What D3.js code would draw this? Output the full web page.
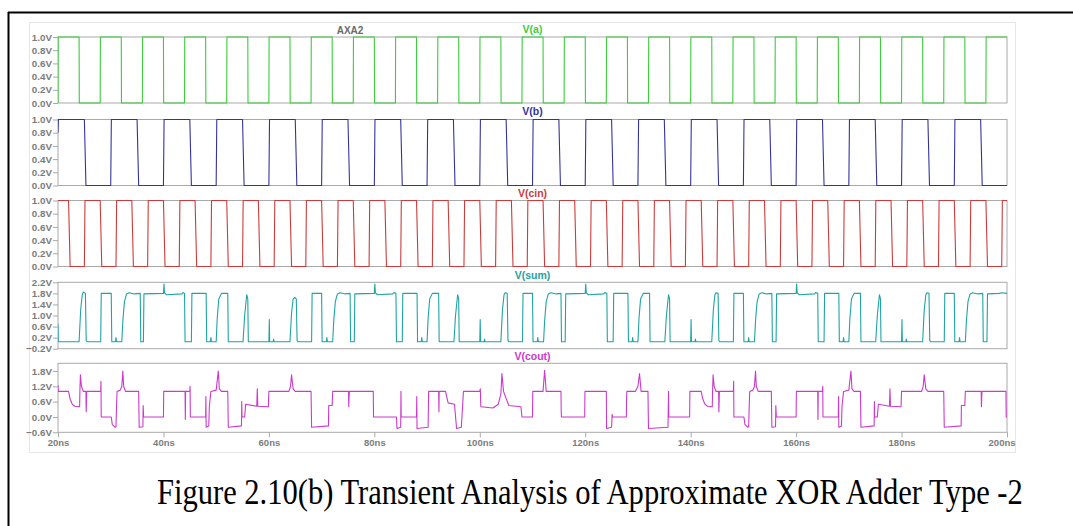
<!DOCTYPE html>
<html><head><meta charset="utf-8">
<script src="https://cdn.jsdelivr.net/npm/d3@7/dist/d3.min.js"></script>
<style>body{margin:0;background:#fff}svg{display:block}</style>
</head><body>
<svg id="c" width="1073" height="526"></svg>
<script>
// ---------------- DATA ----------------
const timeTicks = [20, 40, 60, 80, 100, 120, 140, 160, 180, 200];
const timeTickLabels = ["20ns","40ns","60ns","80ns","100ns","120ns","140ns","160ns","180ns","200ns"];

const signalNames = ["V(a)", "V(b)", "V(cin)", "V(sum)", "V(cout)"];
const voltTicksA = [0, 0.2, 0.4, 0.6, 0.8, 1.0];
const voltTicksB = [0, 0.2, 0.4, 0.6, 0.8, 1.0];
const voltTicksCin = [0, 0.2, 0.4, 0.6, 0.8, 1.0];
const voltTicksSum = [-0.2, 0.2, 0.6, 1.0, 1.4, 1.8, 2.2];
const voltTicksCout = [-0.6, 0.0, 0.6, 1.2, 1.8];

// V(a): level 1 after first edge, toggling at these times (ns)
const aLevelAtStart = 0;
const aEdges = [20,24,28,32,36,40,44,48,52,56,60,64,68,72,76,80,84,88,92,96,100,104,108,112,116,120,124,128,132,136,140,144,148,152,156,160,164,168,172,176,180,184,188,192,196];
// V(b): starts mid rising edge (0.8V at 20ns)
const bStartValue = 0.8;
const bLevelAtStart = 1;
const bEdges = [25,30,35,40,45,50,55,60,65,70,75,80,85,90,95,100,105,110,115,120,125,130,135,140,145,150,155,160,165,170,175,180,185,190,195];
// V(cin)
const cinLevelAtStart = 1;
const cinEdges = [22,25,28,31,34,37,40,43,46,49,52,55,58,61,64,67,70,73,76,79,82,85,88,91,94,97,100,103,106,109,112,115,118,121,124,127,130,133,136,139,142,145,148,151,154,157,160,163,166,169,172,175,178,181,184,187,190,193,196,199];

// V(sum): [time ns, volts]
const sumPoints = [
 [20,0.7],[20.05,0.05],
 [24.0,0.05],[24.3,1.2],[24.6,1.75],[24.8,1.85],[25.2,1.8],[25.35,0.1],[25.5,0.05],
 [28.1,0.05],[28.2,1.8],[30.1,1.8],[30.2,0.05],
 [30.9,0.05],[31.0,0.2],[31.1,0.05],[32.1,0.05],[32.3,0.8],[32.6,1.5],[33.0,1.78],[33.5,1.82],[34.5,1.78],[35.6,1.8],[35.7,0.05],
 [36.2,0.05],[36.3,1.78],[40.0,1.8],[40.1,2.14],[40.2,1.82],[40.6,1.75],[43.5,1.78],[43.7,1.83],[44.0,1.8],[44.1,0.05],
 [45.3,0.05],[45.4,1.8],[48.1,1.8],[48.2,0.05],
 [48.9,0.05],[49.0,0.2],[49.1,0.05],[50.0,0.05],[50.2,0.9],[50.5,1.6],[51.0,1.8],[52.2,1.8],[52.3,0.05],
 [55.1,0.05],[55.4,1.0],[55.8,1.75],[56.0,1.6],[56.1,0.05],
 [60.0,0.05],[60.08,0.85],[60.15,0.05],[60.8,0.05],[60.9,0.15],[61.0,0.05],
 [64.0,0.05],[64.3,1.1],[64.6,1.6],[64.9,1.65],[65.2,1.6],[65.35,0.1],[65.5,0.05],
 [68.1,0.05],[68.2,1.8],[70.0,1.8],[70.1,0.05],
 [70.9,0.05],[71.0,0.2],[71.1,0.05],[72.1,0.05],[72.3,0.8],[72.6,1.5],[73.0,1.78],[73.5,1.82],[74.5,1.78],[75.4,1.8],[75.5,0.05],
 [76.2,0.05],[76.3,1.78],[80.0,1.8],[80.1,2.14],[80.2,1.82],[80.6,1.75],[83.5,1.78],[83.7,1.83],[84.1,1.8],[84.2,0.05],
 [85.3,0.05],[85.4,1.8],[88.1,1.8],[88.2,0.05],
 [88.9,0.05],[89.0,0.2],[89.1,0.05],[90.0,0.05],[90.2,0.9],[90.5,1.6],[91.0,1.8],[92.2,1.8],[92.3,0.05],
 [95.1,0.05],[95.4,1.0],[95.8,1.75],[96.0,1.6],[96.1,0.05],
 [100.0,0.05],[100.08,0.85],[100.15,0.05],[100.8,0.05],[100.9,0.15],[101.0,0.05],
 [104.0,0.05],[104.3,1.2],[104.6,1.75],[104.8,1.82],[105.2,1.8],[105.35,0.1],[105.5,0.05],
 [108.1,0.05],[108.2,1.8],[110.0,1.8],[110.1,0.05],
 [110.9,0.05],[111.0,0.2],[111.1,0.05],[112.1,0.05],[112.3,0.8],[112.6,1.5],[113.0,1.78],[113.5,1.82],[114.5,1.78],[115.4,1.8],[115.5,0.05],
 [116.2,0.05],[116.3,1.78],[120.0,1.8],[120.1,2.14],[120.2,1.82],[120.6,1.75],[123.5,1.78],[123.7,1.83],[124.1,1.8],[124.2,0.05],
 [125.3,0.05],[125.4,1.8],[128.1,1.8],[128.2,0.05],
 [128.9,0.05],[129.0,0.2],[129.1,0.05],[130.0,0.05],[130.2,0.9],[130.5,1.6],[131.0,1.8],[132.2,1.8],[132.3,0.05],
 [135.1,0.05],[135.4,1.0],[135.8,1.75],[136.0,1.6],[136.1,0.05],
 [140.0,0.05],[140.08,0.85],[140.15,0.05],[140.8,0.05],[140.9,0.15],[141.0,0.05],
 [144.0,0.05],[144.3,1.2],[144.6,1.75],[144.8,1.82],[145.2,1.8],[145.35,0.1],[145.5,0.05],
 [148.1,0.05],[148.2,1.8],[150.0,1.8],[150.1,0.05],
 [150.9,0.05],[151.0,0.2],[151.1,0.05],[152.1,0.05],[152.3,0.8],[152.6,1.5],[153.0,1.78],[153.5,1.82],[154.5,1.78],[155.4,1.8],[155.5,0.05],
 [156.2,0.05],[156.3,1.78],[160.0,1.8],[160.1,2.14],[160.2,1.82],[160.6,1.75],[163.5,1.78],[163.7,1.83],[164.1,1.8],[164.2,0.05],
 [165.3,0.05],[165.4,1.8],[168.1,1.8],[168.2,0.05],
 [168.9,0.05],[169.0,0.2],[169.1,0.05],[170.0,0.05],[170.2,0.9],[170.5,1.6],[171.0,1.8],[172.2,1.8],[172.3,0.05],
 [175.1,0.05],[175.4,1.0],[175.8,1.75],[176.0,1.6],[176.1,0.05],
 [180.0,0.05],[180.08,0.85],[180.15,0.05],[180.8,0.05],[180.9,0.15],[181.0,0.05],
 [184.0,0.05],[184.3,1.2],[184.6,1.75],[184.8,1.82],[185.2,1.8],[185.35,0.1],[185.5,0.05],
 [188.1,0.05],[188.2,1.8],[190.0,1.8],[190.1,0.05],
 [190.9,0.05],[191.0,0.2],[191.1,0.05],[192.1,0.05],[192.3,0.8],[192.6,1.5],[193.0,1.78],[193.5,1.82],[194.5,1.78],[195.4,1.8],[195.5,0.05],
 [196.2,0.05],[196.3,1.78],[198.5,1.8],[199.0,1.82],[200,1.8]
];

// V(cout): [time ns, volts]
const coutPoints = [
 [20,1.25],[20.05,1.0],[22.0,1.0],[22.3,0.7],[22.7,0.5],[23.2,0.42],[24.1,0.4],[24.15,1.0],[24.25,1.65],[24.45,1.2],[24.8,1.0],[25.3,1.0],[25.35,0.2],[25.45,1.0],[28.1,1.0],[28.15,1.4],[28.2,0.0],
 [30.1,0.0],[30.3,-0.3],[30.8,-0.4],[31.0,-0.38],[31.1,0.4],[31.2,1.0],[31.8,1.05],[32.1,1.2],[32.3,1.8],[32.45,1.2],[32.8,1.0],[35.3,1.0],[35.4,-0.4],[36.1,-0.38],[36.15,0.45],[36.25,0.0],[40.0,0.0],[40.05,1.0],
 [44.1,1.0],[44.15,-0.1],[44.2,1.0],[45.0,1.0],[45.05,1.2],[45.1,0.0],[48.0,0.0],[48.05,0.8],[48.1,-0.4],[48.6,-0.35],[48.7,0.4],[49.0,1.0],[50.0,1.05],[50.4,1.8],[50.6,1.1],[51.0,1.0],[52.2,1.0],[52.3,-0.4],[54.8,-0.35],[54.85,0.6],[54.9,0.0],[55.4,0.0],[55.6,0.5],
 [57.7,0.42],[57.8,1.1],[57.9,0.42],[59.9,0.4],[60.0,1.0],[63.8,1.0],[64.1,1.2],[64.3,1.65],[64.6,1.1],[65.0,1.0],[68.0,1.0],[68.1,-0.4],[71.3,-0.35],[71.35,0.45],[72.0,0.45],[72.1,1.0],
 [75.1,1.0],[75.15,0.4],[75.25,1.0],[79.8,1.0],[79.85,0.0],[84.2,0.0],[84.3,-0.45],[85.0,-0.4],[85.05,1.0],[85.1,0.0],[88.0,0.0],[88.05,0.8],[88.1,-0.45],[90.2,-0.4],[90.3,1.0],[92.2,1.0],[92.25,0.2],[92.3,1.0],[93.5,1.0],[94.0,0.55],[95.2,0.5],[95.6,-0.45],[96.5,-0.4],[96.9,1.0],
 [100.0,1.0],[100.1,1.1],[100.2,0.4],[102.5,0.35],[103.5,0.5],[104.0,0.9],[104.2,1.7],[104.5,1.0],[105.5,0.45],[107.8,0.4],[108.0,0.0],[110.0,0.0],[110.05,1.0],[112.0,1.0],[112.3,1.83],[112.6,1.0],[115.4,1.0],[115.45,0.2],[115.5,0.0],[119.9,0.0],[119.95,1.0],
 [124.0,1.0],[124.05,-0.45],[125.0,-0.4],[125.1,0.1],[125.2,0.0],[127.8,0.0],[127.85,0.8],[127.9,1.0],[129.5,1.0],[130.0,1.2],[130.3,1.7],[130.6,1.0],[131.9,1.0],[132.0,-0.45],[135.7,-0.4],[135.8,1.0],[135.85,0.0],[139.8,0.0],[139.85,1.0],
 [142.0,1.0],[142.3,0.7],[142.7,0.5],[143.2,0.42],[144.1,0.4],[144.15,1.0],[144.25,1.65],[144.45,1.2],[144.8,1.0],[145.3,1.0],[145.35,0.2],[145.45,1.0],[148.1,1.0],[148.15,1.4],[148.2,0.0],
 [150.1,0.0],[150.3,-0.3],[150.8,-0.4],[151.0,-0.38],[151.1,0.4],[151.2,1.0],[151.8,1.05],[152.1,1.2],[152.3,1.8],[152.45,1.2],[152.8,1.0],[155.3,1.0],[155.4,-0.4],[156.1,-0.38],[156.15,0.45],[156.25,0.0],[160.0,0.0],[160.05,1.0],
 [164.1,1.0],[164.15,-0.1],[164.2,1.0],[165.0,1.0],[165.05,1.2],[165.1,0.0],[168.0,0.0],[168.05,0.8],[168.1,-0.4],[168.6,-0.35],[168.7,0.4],[169.0,1.0],[170.0,1.05],[170.4,1.8],[170.6,1.1],[171.0,1.0],[172.2,1.0],[172.3,-0.4],[174.8,-0.35],[174.85,0.6],[174.9,0.0],[175.4,0.0],[175.6,0.5],
 [177.7,0.42],[177.8,1.1],[177.9,0.42],[179.9,0.4],[180.0,1.0],[183.8,1.0],[184.1,1.2],[184.3,1.65],[184.6,1.1],[185.0,1.0],[188.0,1.0],[188.1,-0.4],[191.3,-0.35],[191.35,0.45],[192.0,0.45],[192.1,1.0],
 [195.1,1.0],[195.15,0.4],[195.25,1.0],[199.8,1.0],[199.85,0.0],[200,0.0]
];

// ---------------- DRAWING ----------------
const svg = d3.select("#c");
const W = 1073, H = 526;
const X0 = 58, X1 = 1007;
const x = d3.scaleLinear().domain([20, 200]).range([X0, X1]);

const font = "'Liberation Sans', Arial, sans-serif";
const frameCol = "#a9a9a9";
const labelCol = "#7c7c7c";

// page frame (black)
svg.append("line").attr("x1", 8).attr("y1", 12.5).attr("x2", W).attr("y2", 12.5).attr("stroke", "#000").attr("stroke-width", 2);
svg.append("line").attr("x1", 8.5).attr("y1", 12).attr("x2", 8.5).attr("y2", H).attr("stroke", "#000").attr("stroke-width", 2);

// faint window outline
svg.append("rect").attr("x", 29.5).attr("y", 22.5).attr("width", 986).attr("height", 430)
  .attr("fill", "none").attr("stroke", "#e6e6e6").attr("stroke-width", 1);

function squarePoints(startLevel, edges, rise, fall, t0, t1, startValue) {
  const pts = [];
  let lvl = startLevel;
  pts.push([t0, startValue !== undefined ? startValue : lvl]);
  edges.forEach(e => {
    const nl = 1 - lvl;
    const tr = nl === 1 ? rise : fall;
    if (e === t0) { pts.length = 0; pts.push([t0, lvl]); pts.push([t0 + tr, nl]); }
    else { pts.push([e, lvl]); pts.push([Math.min(e + tr, t1), nl]); }
    lvl = nl;
  });
  pts.push([t1, lvl]);
  return pts;
}

const aPts = squarePoints(aLevelAtStart, aEdges, 0.04, 0.04, 20, 200);
const bPts = [[20, bStartValue]].concat(squarePoints(bLevelAtStart, bEdges, 0.12, 0.3, 20.08, 200));
const cinPts = [[20, 1.0]].concat(squarePoints(cinLevelAtStart, cinEdges, 0.12, 0.3, 20.0, 200).slice(1));

const panels = [
  {name: signalNames[0], color: "#3ccc3c", top: 37, bottom: 103, dom: [0, 1], ticks: voltTicksA, fmt: d3.format(".1f"), data: aPts, titleY: 33},
  {name: signalNames[1], color: "#33339e", top: 119.5, bottom: 185.5, dom: [0, 1], ticks: voltTicksB, fmt: d3.format(".1f"), data: bPts, titleY: 115},
  {name: signalNames[2], color: "#cc3a3a", top: 200.5, bottom: 266.5, dom: [0, 1], ticks: voltTicksCin, fmt: d3.format(".1f"), data: cinPts, titleY: 196.5},
  {name: signalNames[3], color: "#1fa3a3", top: 282.3, bottom: 348.7, dom: [-0.2, 2.2], ticks: voltTicksSum, fmt: d3.format(".1f"), data: sumPoints, titleY: 278.5},
  {name: signalNames[4], color: "#cc3acc", top: 363.3, bottom: 432.3, dom: [-0.6, 2.1], ticks: voltTicksCout, fmt: d3.format(".1f"), data: coutPoints, titleY: 360}
];

// AXA2 label
svg.append("text").attr("x", 350).attr("y", 33.5).attr("text-anchor", "middle")
  .attr("font-family", font).attr("font-size", 10).attr("font-weight", "bold").attr("fill", "#6a6a6a").text("AXA2");

panels.forEach((p, i) => {
  const y = d3.scaleLinear().domain(p.dom).range([p.bottom, p.top]);
  const g = svg.append("g");
  g.append("rect").attr("x", X0).attr("y", p.top).attr("width", X1 - X0).attr("height", p.bottom - p.top)
    .attr("fill", "none").attr("stroke", frameCol).attr("stroke-width", 1);
  const ax = g.append("g").attr("transform", `translate(${X0},0)`)
    .call(d3.axisLeft(y).tickValues(p.ticks).tickSize(5).tickPadding(1).tickFormat(v => p.fmt(v) + "V"));
  ax.select(".domain").remove();
  ax.selectAll("line").attr("stroke", frameCol);
  ax.selectAll("text").attr("font-family", font).attr("font-size", 9.8).attr("font-weight", "bold").attr("fill", labelCol);
  g.append("text").attr("x", (X0 + X1) / 2).attr("y", p.titleY).attr("text-anchor", "middle")
    .attr("font-family", font).attr("font-size", 10.5).attr("font-weight", "bold").attr("fill", p.color).text(p.name);
  const cid = "clip" + i;
  svg.append("clipPath").attr("id", cid).append("rect").attr("x", X0).attr("y", p.top - 1).attr("width", X1 - X0 + 1).attr("height", p.bottom - p.top + 2);
  g.append("path").datum(p.data)
    .attr("clip-path", `url(#${cid})`)
    .attr("d", d3.line().x(d => x(d[0])).y(d => y(d[1])))
    .attr("fill", "none").attr("stroke", p.color).attr("stroke-width", 1.1).attr("stroke-linejoin", "round");
  if (i === panels.length - 1) {
    const xa = svg.append("g").attr("transform", `translate(0,${p.bottom})`)
      .call(d3.axisBottom(x).tickValues(timeTicks).tickSize(5).tickPadding(2).tickFormat((d, k) => timeTickLabels[k]));
    xa.select(".domain").remove();
    xa.selectAll("line").attr("stroke", frameCol);
    xa.selectAll("text").attr("font-family", font).attr("font-size", 9.5).attr("font-weight", "bold").attr("fill", labelCol);
    // last label sits against the window edge: keep it fully visible, right-aligned to the window edge
    xa.selectAll(".tick").filter(d => d === 200).select("text").attr("text-anchor", "end").attr("x", 8);
  }
});

// caption
const cap = svg.append("text").attr("x", 0).attr("y", 0)
  .attr("font-family", "'Liberation Serif', 'Times New Roman', serif").attr("font-size", 36)
  .attr("fill", "#000")
  .text("Figure 2.10(b) Transient Analysis of Approximate XOR Adder Type -2");
const capLen = cap.node().getComputedTextLength();
cap.attr("transform", `translate(157,504) scale(${866 / capLen},1)`);
</script>
</body></html>
